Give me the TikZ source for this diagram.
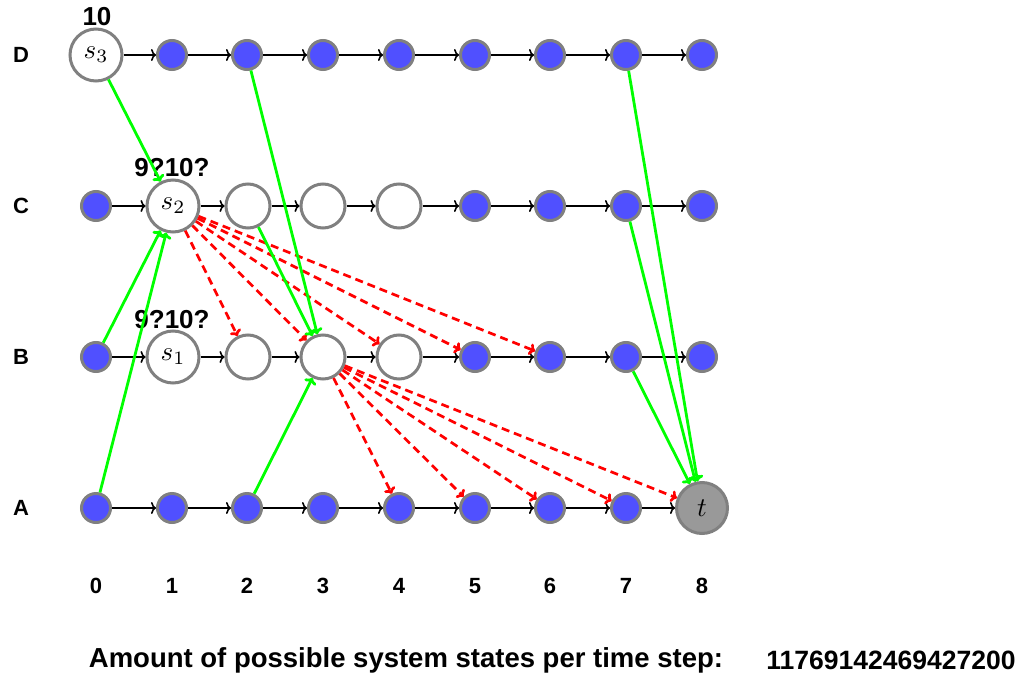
\documentclass[tikz,border=0pt]{standalone}
\usepackage{fontspec}
\setmainfont{Liberation Sans}
\usetikzlibrary{arrows.meta}
\definecolor{nodeblue}{RGB}{80,80,255}
\definecolor{ringgray}{RGB}{128,128,128}
\definecolor{tgray}{RGB}{153,153,153}
\definecolor{brightgreen}{RGB}{0,255,0}
\newcommand{\mlab}[1]{\scalebox{2.7}{$#1$}}
\begin{document}
\begin{tikzpicture}[x=1pt,y=-1pt,
  blue/.style={circle,fill=nodeblue,draw=ringgray,line width=3pt,minimum size=29pt,inner sep=0pt},
  bigw/.style={circle,fill=white,draw=ringgray,line width=3pt,minimum size=52pt,inner sep=0pt},
  smallw/.style={circle,fill=white,draw=ringgray,line width=3pt,minimum size=44pt,inner sep=0pt},
  tnode/.style={circle,fill=tgray,draw=ringgray,line width=3pt,minimum size=51pt,inner sep=0pt},
  lbl/.style={font=\fontsize{22}{24}\selectfont\bfseries},
  cnt/.style={font=\fontsize{26}{28}\selectfont\bfseries},
  harrow/.style={-{To[length=5pt,width=12pt]},line width=1.6pt,black},
  garrow/.style={-{To[length=6pt,width=13pt]},line width=2.8pt,brightgreen},
  rarrow/.style={-{To[length=6pt,width=12pt]},line width=2.7pt,red,dash pattern=on 8pt off 5pt}
]
\useasboundingbox (0,0) rectangle (1019,677);
% row labels
\node[lbl] (rD) at (21,55) {D};
\node[lbl] (rC) at (21,206) {C};
\node[lbl] (rB) at (21,357) {B};
\node[lbl] (rA) at (21,508) {A};
% column labels
\foreach \i/\x in {0/96,1/172,2/247,3/323,4/399,5/475,6/550,7/626,8/702}
  \node[lbl] (col\i) at (\x,586) {\i};
% row D
\node[bigw] (D0) at (96,55) {\mlab{s_3}};
\foreach \i/\x in {1/172,2/247,3/323,4/399,5/475,6/550,7/626,8/702}
  \node[blue] (D\i) at (\x,55) {};
% row C
\node[blue] (C0) at (96,206) {};
\node[bigw] (C1) at (173,206) {\mlab{s_2}};
\node[smallw] (C2) at (248,206) {};
\node[smallw] (C3) at (323,206) {};
\node[smallw] (C4) at (399,206) {};
\foreach \i/\x in {5/475,6/550,7/626,8/702}
  \node[blue] (C\i) at (\x,206) {};
% row B
\node[blue] (B0) at (96,357) {};
\node[bigw] (B1) at (173,357) {\mlab{s_1}};
\node[smallw] (B2) at (248,357) {};
\node[smallw] (B3) at (323,357) {};
\node[smallw] (B4) at (399,357) {};
\foreach \i/\x in {5/475,6/550,7/626,8/702}
  \node[blue] (B\i) at (\x,357) {};
% row A
\foreach \i/\x in {0/96,1/172,2/247,3/323,4/399,5/475,6/550,7/626}
  \node[blue] (A\i) at (\x,508) {};
\node[tnode] (A8) at (702,508) {\mlab{t}};
% counters
\node[cnt] (k3) at (97,17) {10};
\node[cnt] (k2) at (172,168) {9?10?};
\node[cnt] (k1) at (172,320) {9?10?};
% horizontal arrows
\foreach \r in {D,C,B,A}{
  \foreach \i [evaluate=\i as \j using int(\i+1)] in {0,...,7}
    \draw[harrow] (\r\i) -- (\r\j);
}
% red dashed
\foreach \k in {2,3,4,5,6}
  \draw[rarrow] (C1) -- (B\k);
\foreach \k in {4,5,6,7,8}
  \draw[rarrow] (B3) -- (A\k);
% green
\draw[garrow] (D0) -- (C1);
\draw[garrow] (B0) -- (C1);
\draw[garrow] (A0) -- (C1);
\draw[garrow] (D2) -- (B3);
\draw[garrow] (C2) -- (B3);
\draw[garrow] (A2) -- (B3);
\draw[garrow] (D7) -- (A8);
\draw[garrow] (C7) -- (A8);
\draw[garrow] (B7) -- (A8);
% bottom text
\node[font=\fontsize{27.5}{29}\selectfont\bfseries] (amt) at (406,660) {Amount of possible system states per time step:};
\node[font=\fontsize{26.5}{28}\selectfont\bfseries] (num) at (891,660) {11769142469427200};
\end{tikzpicture}
\end{document}
